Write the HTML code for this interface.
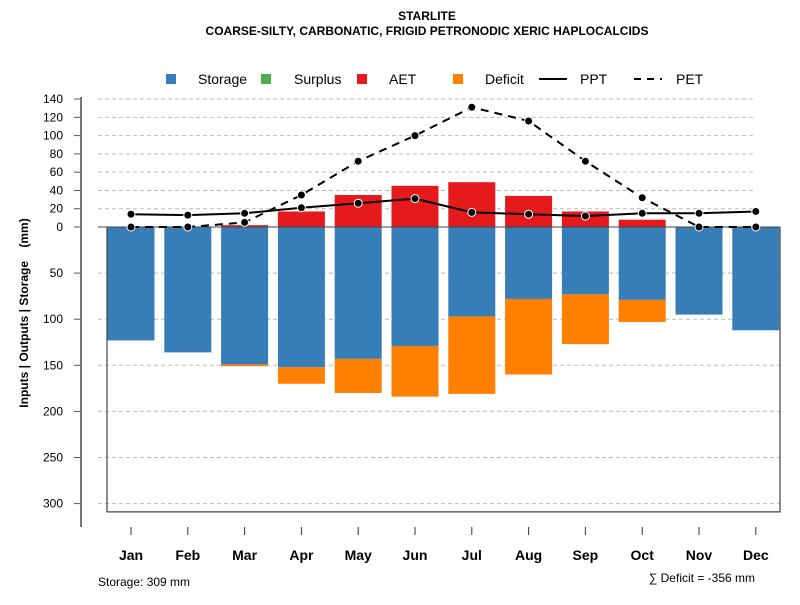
<!DOCTYPE html>
<html><head><meta charset="utf-8"><style>
body{margin:0;background:#fff;}
svg text{font-family:"Liberation Sans",sans-serif;}
</style></head><body>
<svg id="chart" width="800" height="600" viewBox="0 0 800 600" xmlns="http://www.w3.org/2000/svg">
<text x="427" y="20" text-anchor="middle" font-size="12" font-weight="bold">STARLITE</text>
<text x="427" y="35" text-anchor="middle" font-size="12" font-weight="bold">COARSE-SILTY, CARBONATIC, FRIGID PETRONODIC XERIC HAPLOCALCIDS</text>
<g id="legend" font-size="14">
<rect x="166" y="74" width="10" height="10" fill="#377EB8"/>
<text x="198" y="84">Storage</text>
<rect x="261" y="74" width="10" height="10" fill="#4DAF4A"/>
<text x="294" y="84">Surplus</text>
<rect x="357" y="74" width="10" height="10" fill="#E41A1C"/>
<text x="389" y="84">AET</text>
<rect x="453" y="74" width="10" height="10" fill="#FF7F00"/>
<text x="485" y="84">Deficit</text>
<line x1="539" y1="79" x2="567" y2="79" stroke="#000" stroke-width="2"/>
<text x="580" y="84">PPT</text>
<line x1="634" y1="79" x2="662" y2="79" stroke="#000" stroke-width="2" stroke-dasharray="7,6"/>
<text x="676" y="84">PET</text>
</g>
<text transform="translate(28,313) rotate(-90)" text-anchor="middle" font-size="12" font-weight="bold" xml:space="preserve">Inputs | Outputs | Storage    (mm)</text>
<text x="98" y="586" font-size="12">Storage: 309 mm</text>
<text x="755" y="582" text-anchor="end" font-size="12">∑ Deficit = -356 mm</text>
</svg>
<script>
const months=["Jan","Feb","Mar","Apr","May","Jun","Jul","Aug","Sep","Oct","Nov","Dec"];
const storage=[123,136,149,152,143,129,97,78,73,79,95,112];
const deficit=[0,0,2,18,37,55,84,82,54,24,0,0];
const aet=[0,0,2,17,35,45,49,34,17,8,0,0];
const ppt=[14,13,15,21,26,31,16,14,12,15,15,17];
const pet=[0,0,5,35,72,100,131,116,72,32,0,0];
const upTicks=[0,20,40,60,80,100,120,140];
const downTicks=[50,100,150,200,250,300];
const storageMax=309;

const NS="http://www.w3.org/2000/svg";
const svg=document.getElementById('chart');
const y0=227;
function yUp(v){return y0-v*0.914;}
function yDown(v){return y0+v*0.922;}
function xm(i){return 131+i*56.8;}
function mk(tag,attrs,parent){const e=document.createElementNS(NS,tag);for(const k in attrs)e.setAttribute(k,attrs[k]);(parent||svg).appendChild(e);return e;}

const grid=mk('g',{});


upTicks.forEach(v=>{const y=yUp(v);
 const l=mk('line',{x1:98,x2:755,y1:y,y2:y,stroke:'#bbb','stroke-dasharray':'4,3'},grid);
 
 
 const t=mk('line',{x1:74,x2:81,y1:y,y2:y,stroke:'#555'});
 
 
 const tx=mk('text',{x:63,y:y+4,'text-anchor':'end','font-size':12});tx.textContent=v;
 
 
});
downTicks.forEach(v=>{const y=yDown(v);
 const l=mk('line',{x1:98,x2:780,y1:y,y2:y,stroke:'#bbb','stroke-dasharray':'4,3'},grid);
 
 
 const t=mk('line',{x1:74,x2:81,y1:y,y2:y,stroke:'#555'});
 
 
 const tx=mk('text',{x:63,y:y+4,'text-anchor':'end','font-size':12});tx.textContent=v;
 
 
});
const ax=mk('line',{x1:81,x2:81,y1:97,y2:527,stroke:'#777','stroke-width':2});



const bw=47;
months.forEach((m,i)=>{const x=xm(i)-bw/2;
 if(deficit[i]>0){const r=mk('rect',{x:x,y:yDown(storage[i]),width:bw,height:yDown(storage[i]+deficit[i])-yDown(storage[i]),fill:'#FF7F00'});
  
  }
 const s=mk('rect',{x:x,y:y0,width:bw,height:yDown(storage[i])-y0,fill:'#377EB8'});
 
 
 if(aet[i]>0){const a=mk('rect',{x:x,y:yUp(aet[i]),width:bw,height:y0-yUp(aet[i]),fill:'#E41A1C'});
  
  }
 const t=mk('line',{x1:xm(i),x2:xm(i),y1:527,y2:535,stroke:'#333'});
 
 
 const tx=mk('text',{x:xm(i),y:560,'text-anchor':'middle','font-size':14,'font-weight':'bold'});tx.textContent=m;
 
 
});
const box=mk('path',{d:`M107 ${y0} V${yDown(storageMax)} H780 V${y0}`,fill:'none',stroke:'#444','stroke-width':1.2});


const zl=mk('line',{x1:98,x2:780,y1:y0,y2:y0,stroke:'#444'});



const petLine=mk('polyline',{points:pet.map((v,i)=>xm(i)+','+yUp(v)).join(' '),fill:'none',stroke:'#000','stroke-width':2,'stroke-dasharray':'8,6'});


const pptLine=mk('polyline',{points:ppt.map((v,i)=>xm(i)+','+yUp(v)).join(' '),fill:'none',stroke:'#000','stroke-width':2});


pet.forEach((v,i)=>{const c=mk('circle',{cx:xm(i),cy:yUp(v),r:4,fill:'#000',stroke:'#fff','stroke-width':1});
 
 });
ppt.forEach((v,i)=>{const c=mk('circle',{cx:xm(i),cy:yUp(v),r:4,fill:'#000',stroke:'#fff','stroke-width':1});
 
 });
</script>
</body></html>
